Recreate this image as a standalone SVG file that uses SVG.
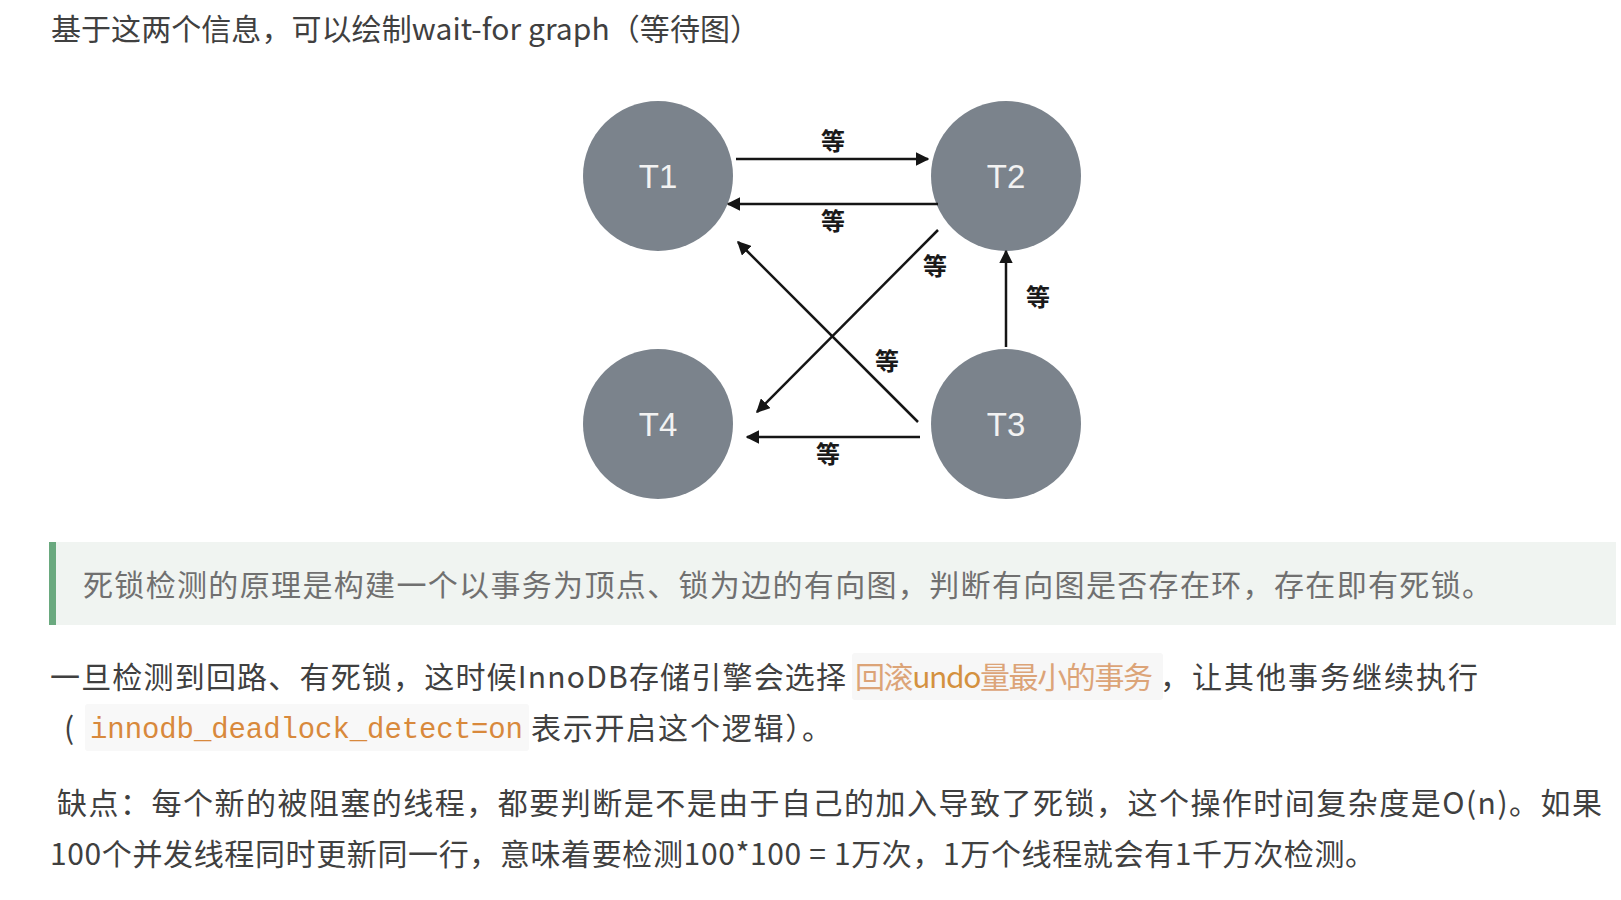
<svg xmlns="http://www.w3.org/2000/svg" width="1621" height="900" viewBox="0 0 1621 900">
<style>
.txt{font-family:"Noto Sans CJK SC","Noto Sans",sans-serif;font-size:30px;fill:#404040}
.quote{font-family:"Noto Sans CJK SC","Noto Sans",sans-serif;font-size:30px;fill:#707070}
.code{font-family:"Noto Sans CJK SC","Noto Sans",sans-serif;font-size:30px;fill:#dca478}
.mono{font-family:"Liberation Mono","DejaVu Sans Mono",monospace;font-size:29px;fill:#d8893c}
.node circle{fill:#7b838c}
.node text{font-family:"Liberation Sans","Noto Sans",sans-serif;font-size:33px;fill:#f2f2f2;text-anchor:middle}
.edge line{stroke:#151515;stroke-width:2.5}
.lbl{font-family:"Noto Sans CJK SC",sans-serif;font-size:24px;font-weight:bold;fill:#1a1a1a;text-anchor:middle}
</style>
<defs>
<marker id="ah" viewBox="0 0 10 10" refX="9" refY="5" markerWidth="5.5" markerHeight="5.5" markerUnits="strokeWidth" orient="auto">
<path d="M0,0 L10,5 L0,10 z" fill="#151515"/>
</marker>
</defs>
<rect x="0" y="0" width="1621" height="900" fill="#ffffff"/>
<text class="txt" x="51" y="40" textLength="709" lengthAdjust="spacing">基于这两个信息，可以绘制wait-for graph（等待图）</text>

<g id="T1" class="node"><circle cx="658" cy="176" r="75"/><text x="658" y="188">T1</text></g>
<g id="T2" class="node"><circle cx="1006" cy="176" r="75"/><text x="1006" y="188">T2</text></g>
<g id="T3" class="node"><circle cx="1006" cy="424" r="75"/><text x="1006" y="436">T3</text></g>
<g id="T4" class="node"><circle cx="658" cy="424" r="75"/><text x="658" y="436">T4</text></g>

<g id="connectors" class="edge">
<line x1="736" y1="159" x2="928" y2="159" marker-end="url(#ah)"/>
<line x1="938" y1="204" x2="728" y2="204" marker-end="url(#ah)"/>
<line x1="938" y1="230" x2="757" y2="412" marker-end="url(#ah)"/>
<line x1="918" y1="422" x2="738" y2="242" marker-end="url(#ah)"/>
<line x1="1006" y1="347" x2="1006" y2="251" marker-end="url(#ah)"/>
<line x1="920" y1="437" x2="747" y2="437" marker-end="url(#ah)"/>
</g>
<g id="edge-labels">
<text class="lbl" x="833" y="150">等</text>
<text class="lbl" x="833" y="230">等</text>
<text class="lbl" x="935" y="275">等</text>
<text class="lbl" x="1038" y="306">等</text>
<text class="lbl" x="887" y="370">等</text>
<text class="lbl" x="828" y="463">等</text>
</g>

<rect x="49" y="542" width="1567" height="83" fill="#f0f4f1"/>
<rect x="49" y="542" width="7" height="83" fill="#6aa97f"/>
<text class="quote" x="83" y="596" textLength="1409" lengthAdjust="spacing">死锁检测的原理是构建一个以事务为顶点、锁为边的有向图，判断有向图是否存在环，存在即有死锁。</text>

<text class="txt" x="50" y="688" textLength="796" lengthAdjust="spacing">一旦检测到回路、有死锁，这时候InnoDB存储引擎会选择</text>
<rect x="852" y="653" width="311" height="47" rx="3" fill="#f7f7f7"/>
<text class="code" x="855" y="688" textLength="298" lengthAdjust="spacing">回滚<tspan fill="#d4913f">undo</tspan>量最小的事务</text>
<text class="txt" x="1160" y="688" textLength="318" lengthAdjust="spacing">，让其他事务继续执行</text>

<text class="txt" x="64" y="739">(</text>
<rect x="85" y="704" width="444" height="47" rx="3" fill="#f8f8f8"/>
<text class="mono" x="90" y="738" textLength="433" lengthAdjust="spacing">innodb_deadlock_detect=on</text>
<text class="txt" x="531" y="739" textLength="301" lengthAdjust="spacing">表示开启这个逻辑）。</text>

<text class="txt" x="57" y="814" textLength="1545" lengthAdjust="spacing">缺点：每个新的被阻塞的线程，都要判断是不是由于自己的加入导致了死锁，这个操作时间复杂度是O(n)。如果</text>
<text class="txt" x="50" y="865" textLength="1325" lengthAdjust="spacing">100个并发线程同时更新同一行，意味着要检测100*100 = 1万次，1万个线程就会有1千万次检测。</text>
</svg>
